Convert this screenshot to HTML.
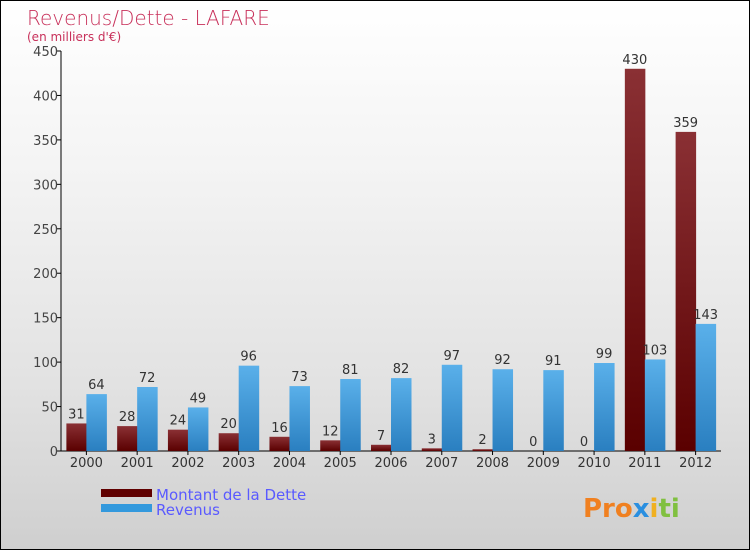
<!DOCTYPE html>
<html><head><meta charset="utf-8"><style>
body{margin:0}
#c{position:relative;width:748px;height:548px;border:1px solid #000;background:linear-gradient(#fff,#f4f4f4 30%,#e2e2e2 70%,#cfcfcf);font-family:"DejaVu Sans","Liberation Sans",sans-serif;overflow:hidden}
svg{position:absolute;left:0;top:0}
</style></head><body>
<div id="c">
<svg id="s" width="748" height="548">
<defs>
<linearGradient id="gd" x1="0" y1="0" x2="0" y2="1"><stop offset="0" stop-color="#8a3034"/><stop offset="1" stop-color="#5a0000"/></linearGradient>
<linearGradient id="gr" x1="0" y1="0" x2="0" y2="1"><stop offset="0" stop-color="#5ab0ea"/><stop offset="1" stop-color="#2a7fc0"/></linearGradient>
</defs>
<text x="26" y="24" font-size="20" fill="#c8305a" font-weight="300">Revenus/Dette - LAFARE</text>
<text x="26" y="40" font-size="12" fill="#c8305a">(en milliers d'€)</text>
<g id="g"></g>
<rect x="100" y="488" width="51" height="8" fill="#600000"/>
<rect x="100" y="503" width="51" height="8" fill="#3399dd"/>
<text x="155" y="499" font-size="15" fill="#5a5aff">Montant de la Dette</text>
<text x="155" y="514" font-size="15" fill="#5a5aff">Revenus</text>
<text x="582" y="516" font-size="26" font-weight="bold"><tspan fill="#f08020">Pro</tspan><tspan fill="#2a8fe0">x</tspan><tspan fill="#f0b020">i</tspan><tspan fill="#80c040">ti</tspan></text>
</svg>
</div>
<script>
const years=["2000","2001","2002","2003","2004","2005","2006","2007","2008","2009","2010","2011","2012"];
const dette=[31,28,24,20,16,12,7,3,2,0,0,430,359];
const revenus=[64,72,49,96,73,81,82,97,92,91,99,103,143];
const ticks=[0,50,100,150,200,250,300,350,400,450];
const NS="http://www.w3.org/2000/svg",g=document.getElementById("g");
const x0=60,x1=720,yb=450,yt=50,ymax=450;
const bw=(x1-x0)/years.length;
const Y=v=>yb-(v/ymax)*(yb-yt);
const X=i=>x0+(i+0.5)*bw;
function mk(t,a){const e=document.createElementNS(NS,t);for(const k in a)e.setAttribute(k,a[k]);g.appendChild(e);return e;}
let ax=mk("line",{x1:x0,y1:yt,x2:x0,y2:yb,stroke:"#000"});


let bx=mk("line",{x1:x0,y1:yb,x2:x1,y2:yb,stroke:"#000"});


ticks.forEach(t=>{
 let l=mk("line",{x1:x0-4,y1:Y(t),x2:x0,y2:Y(t),stroke:"#000"});
 
 
 let tx=mk("text",{x:x0-3,y:Y(t)+5,"font-size":13,fill:"#444","text-anchor":"end"});
 
 
 tx.textContent=t;
});
years.forEach((yr,i)=>{
 const c=X(i);
 let l=mk("line",{x1:c,y1:yb,x2:c,y2:yb+4,stroke:"#000"});
 
 
 let tx=mk("text",{x:c,y:yb+16,"font-size":13,fill:"#333","text-anchor":"middle"});
 
 
 tx.textContent=yr;
 [[dette[i],c-20,"url(#gd)","bar-dette"],[revenus[i],c,"url(#gr)","bar-revenus"]].forEach(([v,x,f,n])=>{
  let r=mk("rect",{x:x,y:Y(v),width:20.5,height:yb-Y(v),fill:f});
  
  
  let t=mk("text",{x:x+10,y:Y(v)-5,"font-size":13,fill:"#333","text-anchor":"middle"});
  
  
  t.textContent=v;
 });
});
</script>
</body></html>
